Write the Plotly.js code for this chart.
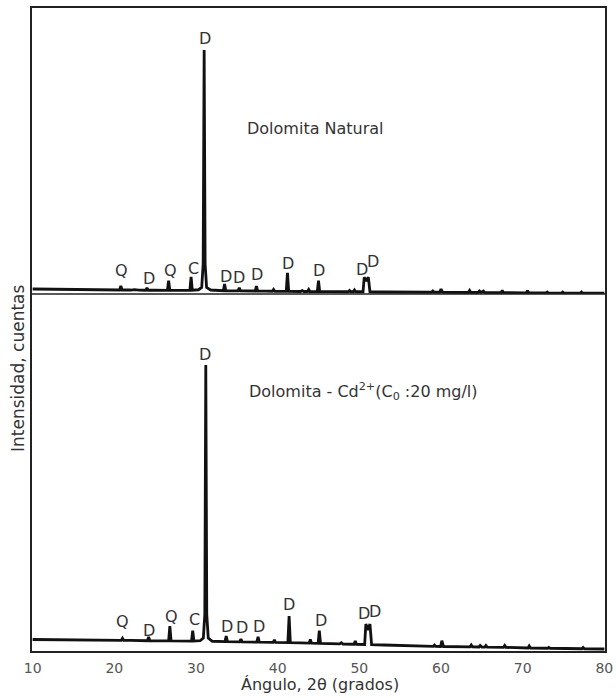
<!DOCTYPE html>
<html>
<head>
<meta charset="utf-8">
<script src="https://cdn.plot.ly/plotly-3.0.1.min.js"></script>
<style>html,body{margin:0;padding:0;background:#fff;}#chart{width:616px;height:698px;}</style>
</head>
<body>
<div id="chart"></div>
<script>
// 2θ (degrees) and intensity (counts) – Dolomita Natural (upper pattern)
const natX = [10,12,14,16,18,20,20.65,20.8,20.95,22,22.5,23,23.85,24.0,24.15,25,26.5,26.65,26.8,28,29.25,29.4,29.55,30.3,30.7,30.88,31.0,31.12,31.3,31.8,33.35,33.5,33.65,35.15,35.3,35.45,36.5,37.25,37.4,37.55,38.5,39.35,39.5,39.65,41.05,41.2,41.35,42.8,43.0,43.2,43.65,43.8,43.95,44.85,45.0,45.15,46.5,48.65,48.8,48.95,49.25,49.4,49.55,50.45,50.6,50.85,51.1,51.3,53,55,58.85,59.0,59.15,59.85,60.0,60.2,63.35,63.5,63.65,64.55,64.7,64.9,65.2,65.35,67.35,67.5,67.65,70.45,70.6,70.75,72.85,73.0,73.15,74.75,74.9,75.05,77.05,77.2,77.35,80];
const natY = [200,195,190,180,170,165,160,320,160,160,175,155,150,240,150,150,145,530,145,145,145,690,150,170,260,1200,9760,1200,260,160,130,400,130,125,250,125,120,120,320,120,115,110,180,110,105,850,105,100,140,100,100,180,100,95,530,95,95,90,140,90,90,160,90,90,670,520,670,90,80,75,70,120,70,70,200,70,60,140,60,60,120,60,120,60,55,140,55,45,140,45,40,80,40,38,80,38,34,80,34,30];

// Dolomita - Cd2+ (C0: 20 mg/l) (lower pattern)
const cdX = [10,12,14,16,18,20.85,21.0,21.15,22,24.05,24.2,24.35,26.65,26.8,26.95,28,29.45,29.6,29.75,30.5,30.9,31.08,31.2,31.32,31.5,32.0,33.55,33.7,33.85,35.35,35.5,35.65,36.5,37.45,37.6,37.75,39.45,39.6,39.75,41.25,41.4,41.55,42.8,43.85,44.0,44.15,44.95,45.1,45.25,46.5,47.6,47.8,48.0,49.35,49.5,49.65,50.65,50.8,51.05,51.3,51.5,53,55,57,59.05,59.2,59.35,59.95,60.1,60.3,63.55,63.7,63.85,64.65,64.8,65.0,65.35,65.5,65.65,67.65,67.8,67.95,70.65,70.8,70.95,73.05,73.2,73.35,74.95,75.1,75.25,77.25,77.4,77.55,80];
const cdY = [500,495,490,480,475,465,550,465,462,450,600,450,445,1040,445,440,435,850,435,450,560,1500,11480,1500,560,430,415,640,415,405,520,405,400,395,610,395,385,480,385,375,1440,375,365,355,500,355,345,850,345,335,325,370,320,310,440,310,300,1120,880,1120,295,280,260,245,225,280,225,220,450,220,205,280,205,200,260,200,198,260,198,185,260,185,160,240,160,150,180,150,140,160,140,130,180,130,120];

// Phase labels (Q = cuarzo, D = dolomita, C = calcita)
const natLabX = [20.92,24.3,26.83,29.68,31.11,33.68,35.31,37.51,41.24,45.07,50.3,51.65];
const natLabY = [932,628,960,1028,10240,720,668,772,1228,932,988,1292];
const natLabT = ['Q','D','Q','C','D','D','D','D','D','D','D','D'];
const cdLabX = [21.04,24.3,27.04,29.77,31.11,33.84,35.61,37.72,41.43,45.27,50.58,51.93];
const cdLabY = [1212,880,1412,1308,11920,1012,988,1040,1920,1252,1548,1612];
const cdLabT = ['Q','D','Q','C','D','D','D','D','D','D','D','D'];

const xTicks = [10,20,30,40,50,60,70,80];

const FONT = 'DejaVu Sans, sans-serif';
const lineStyle = {color:'#111', width:2.8};

const traces = [
  {x:cdX, y:cdY, type:'scatter', mode:'lines', line:lineStyle, xaxis:'x', yaxis:'y', hoverinfo:'skip'},
  {x:natX, y:natY, type:'scatter', mode:'lines', line:lineStyle, xaxis:'x', yaxis:'y2', hoverinfo:'skip'}
];

const ann = [];
const lab = {family:FONT,size:16,color:'#333'};
natLabX.forEach((x,i)=>ann.push({x:x, y:natLabY[i], xref:'x', yref:'y2', text:natLabT[i], showarrow:false, xanchor:'center', yanchor:'middle', font:lab}));
cdLabX.forEach((x,i)=>ann.push({x:x, y:cdLabY[i], xref:'x', yref:'y', text:cdLabT[i], showarrow:false, xanchor:'center', yanchor:'middle', font:lab}));
ann.push({x:44.6, y:6640, xref:'x', yref:'y2', text:'Dolomita Natural', showarrow:false, xanchor:'center', yanchor:'middle', font:lab});
ann.push({x:36.2, y:10440, xref:'x', yref:'y', text:'Dolomita - Cd<sup>2+</sup>(C<sub>0</sub> :20 mg/l)', showarrow:false, xanchor:'left', yanchor:'middle', font:lab});
ann.push({x:-0.023, y:0.44, xref:'paper', yref:'paper', text:'Intensidad, cuentas', textangle:-90, showarrow:false, xanchor:'center', yanchor:'middle', font:{family:FONT,size:17,color:'#333'}});
ann.push({x:0.502, y:-0.05, xref:'paper', yref:'paper', text:'Ángulo, 2θ (grados)', showarrow:false, xanchor:'center', yanchor:'middle', font:{family:FONT,size:16,color:'#333'}});

const layout = {
  width:616, height:698,
  margin:{l:31, r:10, t:7, b:46},
  paper_bgcolor:'#fff', plot_bgcolor:'#fff',
  showlegend:false,
  xaxis:{range:[9.8,80.2], tickmode:'array', tickvals:xTicks, ticktext:xTicks.map(String), showgrid:false, zeroline:false, showline:false, ticks:'outside', ticklen:3, tickcolor:'rgba(0,0,0,0)', tickfont:{family:FONT,size:14,color:'#555'}},
  yaxis:{domain:[0,0.555], range:[0,14320], showticklabels:false, showgrid:false, zeroline:false, showline:false, ticks:''},
  yaxis2:{domain:[0.555,1], range:[0,11480], showticklabels:false, showgrid:false, zeroline:false, showline:false, ticks:''},
  annotations:ann,
  shapes:[
    {type:'rect', xref:'paper', yref:'paper', x0:0, x1:1, y0:0, y1:1, line:{color:'#222', width:2}},
    {type:'line', xref:'paper', yref:'paper', x0:0, x1:1, y0:0.555, y1:0.555, line:{color:'#222', width:1.5}}
  ]
};

Plotly.newPlot('chart', traces, layout, {staticPlot:true, displayModeBar:false});
</script>
</body>
</html>
